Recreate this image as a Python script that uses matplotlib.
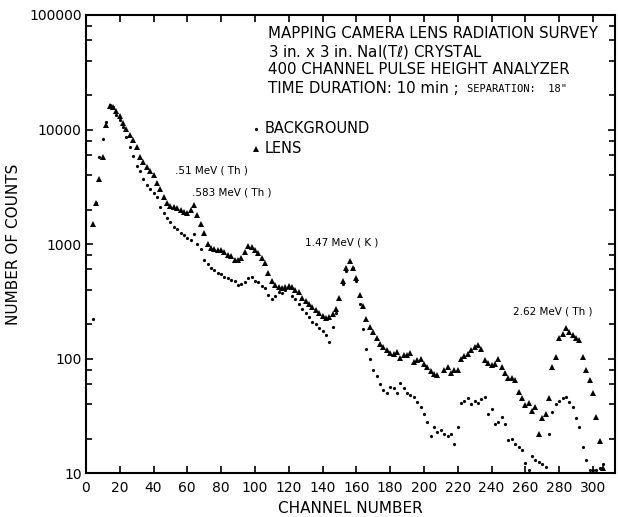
import numpy as np
import matplotlib
matplotlib.use("Agg")
import matplotlib.pyplot as plt
from matplotlib.ticker import FixedLocator, FixedFormatter, LogLocator, NullFormatter

# channel numbers (every 2nd channel)
channels = np.arange(4, 308, 2)

# background counts, 10 min
background = [
    220, 2300, 5800, 8300, 11700, 16500, 15800, 13500, 12000, 10500,    # 4-22
    8600, 7000, 5900, 4800, 4300, 3700, 3300, 3000, 2800, 2550,         # 24-42
    2100, 1850, 1700, 1550, 1420, 1340, 1260, 1200, 1130, 1080,         # 44-62
    1230, 1000, 900, 720, 670, 620, 590, 560, 545, 520,                 # 64-82
    505, 490, 480, 440, 450, 470, 510, 520, 480, 470,                   # 84-102
    430, 410, 360, 330, 350, 380, 370, 400, 410, 350,                   # 104-122
    330, 300, 270, 250, 230, 210, 200, 185, 175, 160,                   # 124-142
    140, 190, 250, 330, 450, 580, 700, 620, 480, 300,                   # 144-162
    180, 120, 100, 80, 70, 60, 53, 50, 56, 55,                          # 164-182
    50, 61, 55, 50, 48, 46, 42, 38, 33, 28,                             # 184-202
    21, 25, 23, 24, 22, 21, 22, 18, 25, 41,                             # 204-222
    43, 45, 40, 43, 41, 44, 46, 33, 36, 27,                             # 224-242
    28, 31, 27, 19.4, 20, 18, 17, 15.9, 12.2, 10.6,                     # 244-264
    14, 13, 12.5, 12, 11.3, 22, 34, 40, 43, 45,                         # 266-286
    46, 42, 38, 30, 25, 17, 13, 10.6, 10.6, 10.6, 11, 12,               # 288-306
]

# lens counts, 10 min
lens = [
    1500, 2300, 3700, 5800, 11000, 16000, 15800, 14500, 13000, 11500,   # 4-22
    10200, 9000, 8100, 7000, 5800, 5200, 4700, 4300, 4000, 3400,        # 24-42
    3000, 2600, 2300, 2150, 2100, 2050, 2000, 1900, 1850, 2000,         # 44-62
    2200, 1800, 1500, 1250, 1000, 930, 900, 880, 880, 850,              # 64-82
    810, 780, 720, 730, 760, 850, 960, 940, 880, 830,                   # 84-102
    760, 680, 560, 480, 440, 420, 410, 420, 430, 420,                   # 104-122
    400, 380, 340, 320, 300, 280, 265, 250, 235, 225,                   # 124-142
    230, 245, 270, 340, 480, 620, 710, 620, 510, 360,                   # 144-162
    290, 220, 190, 170, 150, 135, 126, 118, 112, 110,                   # 164-182
    114, 101, 108, 107, 112, 93, 98, 100, 90, 84,                       # 184-202
    78, 74, 72, np.nan, 80, 84, 75, 80, 79, 100,                        # 204-222
    105, 110, 118, 125, 131, 120, 97, 92, 88, 90,                       # 224-242
    100, 84, 75, 67, 68, 65, 51, 45, 39, 41,                            # 244-262
    35, 38, 22, 30, 33, 45, 84, 103, 150, 165,                          # 264-282
    185, 170, 160, 150, 145, 103, 79, 65, 50, 31, 19, 11,               # 284-306
]

x_ticks = list(range(0, 320, 20))
y_ticks = [10, 100, 1000, 10000, 100000]
y_labels = ["10", "100", "1000", "10000", "100000"]

title_lines = [
    "MAPPING CAMERA LENS RADIATION SURVEY",
    "3 in. x 3 in. NaI(T$\\ell$) CRYSTAL",
    "400 CHANNEL PULSE HEIGHT ANALYZER",
    "TIME DURATION: 10 min ;",
]

peaks = [
    (".51 MeV ( Th )", 53, 4350),
    (".583 MeV ( Th )", 63, 2790),
    ("1.47 MeV ( K )", 129.5, 1030),
    ("2.62 MeV ( Th )", 252.5, 260),
]

fig = plt.figure(figsize=(6.18, 5.17), dpi=100)
ax = fig.add_axes([0.139, 0.085, 0.856, 0.886])

ax.plot(channels, background, linestyle="none", marker="o", markersize=2.3,
        color="black", markeredgewidth=0)
ax.plot(channels, lens, linestyle="none", marker="^", markersize=4.2,
        color="black", markeredgewidth=0)

ax.set_yscale("log")
ax.set_xlim(0, 313)
ax.set_ylim(10, 100000)

ax.xaxis.set_major_locator(FixedLocator(x_ticks))
ax.set_xticklabels([str(t) for t in x_ticks])
ax.yaxis.set_major_locator(FixedLocator(y_ticks))
ax.yaxis.set_major_formatter(FixedFormatter(y_labels))
ax.yaxis.set_minor_locator(LogLocator(base=10, subs=(2, 4, 6, 8)))
ax.yaxis.set_minor_formatter(NullFormatter())

ax.tick_params(which="both", direction="in", top=True, right=True, width=1.2)
ax.tick_params(which="major", length=5, labelsize=10)
ax.tick_params(axis="x", which="major", pad=6)
ax.tick_params(axis="y", which="major", pad=3)
ax.tick_params(which="minor", length=4)
for s in ax.spines.values():
    s.set_linewidth(1.5)

ax.set_xlabel("CHANNEL NUMBER", fontsize=11, labelpad=4)
ax.set_ylabel("NUMBER OF COUNTS", fontsize=11, labelpad=6)

# title block inside the axes
for i, line in enumerate(title_lines):
    ax.text(0.344, 0.96 - i * 0.04, line, transform=ax.transAxes,
            fontsize=10.8, va="center", ha="left")
ax.text(0.72, 0.838, 'SEPARATION:  18"', transform=ax.transAxes,
        fontsize=7.5, family="DejaVu Sans Mono", va="center", ha="left")

# legend
ax.plot([0.322], [0.752], transform=ax.transAxes, marker="o", markersize=2.3,
        color="black", markeredgewidth=0)
ax.text(0.338, 0.752, "BACKGROUND", transform=ax.transAxes, fontsize=10.5,
        va="center", ha="left")
ax.plot([0.322], [0.708], transform=ax.transAxes, marker="^", markersize=4,
        color="black", markeredgewidth=0)
ax.text(0.338, 0.708, "LENS", transform=ax.transAxes, fontsize=10.5,
        va="center", ha="left")

for label, cx, cy in peaks:
    ax.text(cx, cy, label, fontsize=7.5, va="center", ha="left")

fig.savefig("out.png", dpi=100)
